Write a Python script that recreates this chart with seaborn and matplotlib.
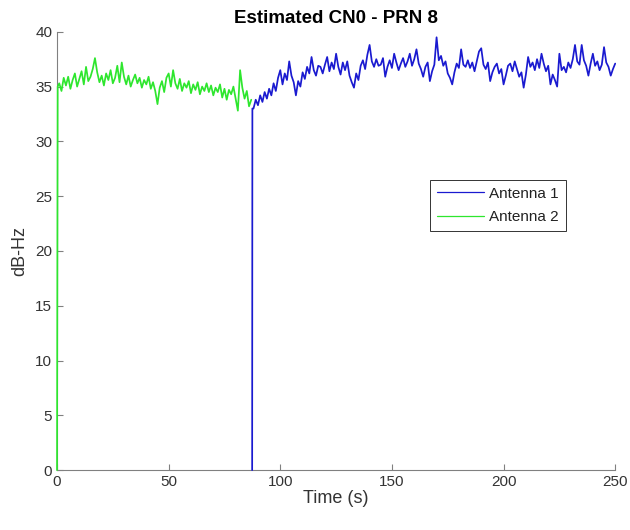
import numpy as np
import pandas as pd
import matplotlib
matplotlib.use("Agg")
import matplotlib.pyplot as plt
import seaborn as sns

# ---- data ----
title = "Estimated CN0 - PRN 8"
series_names = ["Antenna 1", "Antenna 2"]

# Antenna 2 (green): initial acquisition then 1 s samples t=1..87
ant2_t_start = [0.0, 0.3]
ant2_v_start = [0.0, 35.0]
ant2_values = [
    35.3, 34.6, 35.8, 35.1, 35.9, 34.8, 35.6, 36.2, 35.0, 35.7,
    36.4, 35.2, 36.8, 35.5, 35.9, 36.6, 37.6, 36.3, 35.4, 36.0,
    35.1, 36.2, 35.6, 36.5, 35.3, 35.8, 36.9, 35.4, 37.2, 35.9,
    35.2, 36.0, 35.0, 35.6, 36.1, 35.3, 35.8, 34.9, 35.6, 35.2,
    35.9, 34.8, 35.4, 34.6, 33.4, 34.9, 35.5, 34.5, 35.8, 36.2,
    35.0, 36.5, 35.3, 34.8, 35.7, 34.6, 35.3, 34.9, 35.5, 34.4,
    35.2, 34.7, 35.4, 34.3, 35.0, 34.6, 35.3, 34.5, 35.1, 34.2,
    34.9, 34.5, 35.2, 34.0, 34.8, 33.8, 34.7, 34.3, 35.0, 33.9,
    32.8, 36.5, 34.9, 33.9, 34.6, 33.2, 33.8,
]
ant2_first_t, ant2_step = 1.0, 1.0

# Antenna 1 (blue): acquisition at ~87.4 s then 1 s samples t=88..250
ant1_t_start = [87.4, 87.5]
ant1_v_start = [0.0, 33.0]
ant1_values = [
    33.0, 33.8, 33.3, 34.2, 33.6, 34.5, 33.9, 34.8, 34.2, 35.3,
    34.6, 35.8, 36.5, 35.2, 36.2, 35.6, 37.3, 36.0, 35.4, 34.2,
    35.5, 35.0, 36.3, 35.7, 36.8, 36.2, 37.7, 36.5, 36.0, 36.9,
    36.8, 36.2, 37.0, 37.7, 36.4, 37.2, 36.6, 38.0, 36.8, 36.1,
    37.2, 36.5, 37.3, 36.0, 35.4, 34.9, 36.2, 35.6, 36.9, 37.4,
    36.6, 37.9, 38.8, 37.3, 36.8, 37.5, 36.9, 37.0, 37.6, 35.9,
    36.8, 37.4, 36.7, 38.0, 37.2, 36.5, 37.1, 37.6, 36.8, 37.3,
    38.0, 36.9, 37.5, 38.4, 37.1, 36.6, 35.9, 36.8, 37.2, 35.5,
    36.4, 37.0, 39.5, 37.4, 37.8, 36.9, 37.3, 36.2, 35.8, 35.2,
    36.3, 37.1, 36.7, 38.4, 37.0, 36.8, 37.4, 36.7, 37.2, 36.4,
    37.3, 38.2, 38.5, 37.0, 36.6, 37.2, 35.5, 36.3, 36.8, 37.1,
    36.2, 36.6, 35.2, 36.0, 36.9, 37.1, 36.4, 37.3, 36.6, 35.9,
    36.3, 34.9, 36.1, 37.7, 36.8, 37.2, 36.5, 37.5, 36.7, 38.0,
    37.1, 36.4, 36.9, 35.2, 36.1, 35.6, 35.0, 38.0, 36.5, 36.8,
    36.3, 37.2, 36.7, 37.5, 38.8, 37.3, 37.0, 38.8, 37.4, 36.9,
    36.0, 37.1, 38.0, 36.9, 37.3, 36.5, 37.0, 38.6, 37.2, 36.8,
    36.0, 36.6, 37.1,
]
ant1_first_t, ant1_step = 88.0, 1.0

x_ticks = [0, 50, 100, 150, 200, 250]
y_ticks = [0, 5, 10, 15, 20, 25, 30, 35, 40]

# ---- build long-form table ----
t2 = ant2_t_start + list(ant2_first_t + ant2_step * np.arange(len(ant2_values)))
v2 = ant2_v_start + ant2_values
t1 = ant1_t_start + list(ant1_first_t + ant1_step * np.arange(len(ant1_values)))
v1 = ant1_v_start + ant1_values
df = pd.DataFrame({
    "t": t1 + t2,
    "v": v1 + v2,
    "ant": [series_names[0]] * len(t1) + [series_names[1]] * len(t2),
})

sns.set_style("white")
plt.rcParams["font.family"] = ["Liberation Sans", "DejaVu Sans"]

fig = plt.figure(figsize=(6.3, 5.3), dpi=100)
ax = fig.add_axes([0.0905, 0.113, 0.886, 0.827])

palette = {series_names[0]: "#1a1ad0", series_names[1]: "#2ee62e"}
sns.lineplot(data=df, x="t", y="v", hue="ant", hue_order=series_names,
             palette=palette, estimator=None, sort=True, linewidth=1.25,
             ax=ax, legend=True, clip_on=False)

ax.set_xlim(0, 250)
ax.set_ylim(0, 40)
ax.set_xticks(x_ticks)
ax.set_yticks(y_ticks)
axis_col = "#808080"
ax.tick_params(direction="in", length=4, width=0.8, colors=axis_col,
               labelsize=11, labelcolor="#333333", bottom=True, left=True,
               top=False, right=False)
for side in ["top", "right"]:
    ax.spines[side].set_visible(False)
for side in ["left", "bottom"]:
    ax.spines[side].set_color(axis_col)
    ax.spines[side].set_linewidth(0.8)
    ax.spines[side].set_zorder(0.5)

ax.set_xlabel("Time (s)", fontsize=13, color="#333333", labelpad=1)
ax.set_ylabel("dB-Hz", fontsize=13, color="#333333", labelpad=5)
ax.set_title(title, fontsize=13.5, fontweight="bold", color="#000000", pad=6)

leg = ax.legend(loc="upper left", bbox_to_anchor=(0.668, 0.662), fontsize=11,
                frameon=True, fancybox=False, framealpha=1, borderpad=0.45,
                handlelength=3.1, handletextpad=0.35, labelspacing=0.6,
                borderaxespad=0)
leg.get_frame().set_edgecolor("#333333")
leg.get_frame().set_linewidth(0.7)
for line in leg.get_lines():
    line.set_linewidth(0.9)
for txt in leg.get_texts():
    txt.set_color("#222222")

fig.savefig("out.png", dpi=100)
